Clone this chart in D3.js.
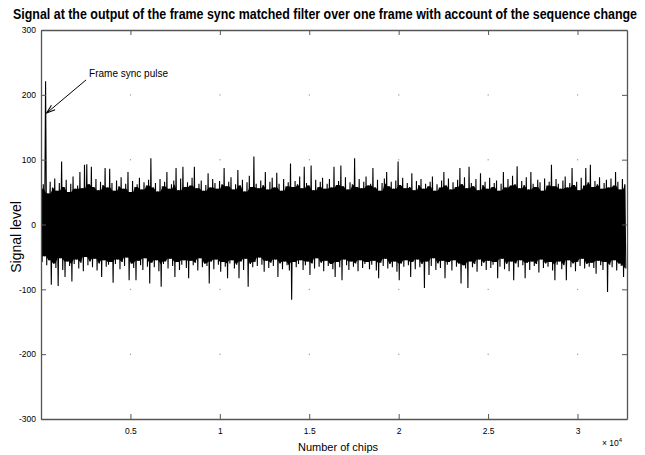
<!DOCTYPE html>
<html>
<head>
<meta charset="utf-8">
<script src="https://cdn.jsdelivr.net/npm/d3@7"></script>
<style>
  html, body { margin: 0; padding: 0; background: #fff; }
  svg { display: block; font-family: "Liberation Sans", Arial, sans-serif; }
</style>
</head>
<body>
<svg id="chart" width="645" height="455"></svg>
<script>
// Matched-filter output over one frame (32768 chips), summarised as
// positive and negative excursion per block of 128 chips.
const frameChips = 32768;
const blockChips = 128;

const upperPeaks = [
  55, 62, 221, 48, 66, 57, 71, 52, 64, 97, 58, 69, 50, 63, 74, 55,
  60, 81, 56, 92, 93, 62, 89, 58, 70, 53, 66, 61, 87, 57, 86, 64,
  52, 68, 59, 73, 55, 63, 81, 50, 67, 58, 62, 72, 54, 65, 60, 69,
  102, 57, 64, 51, 70, 59, 66, 81, 55, 62, 68, 87, 53, 71, 89, 58,
  65, 60, 72, 89, 56, 63, 68, 52, 61, 79, 57, 70, 64, 55, 67, 62,
  87, 59, 66, 73, 54, 62, 84, 60, 69, 51, 65, 75, 58, 105, 63, 56,
  68, 61, 81, 54, 66, 72, 57, 80, 63, 52, 70, 59, 65, 94, 58, 67,
  62, 74, 56, 89, 64, 60, 91, 53, 69, 58, 66, 72, 55, 63, 70, 57,
  89, 61, 67, 91, 59, 73, 54, 65, 62, 102, 58, 70, 56, 66, 74, 60,
  63, 87, 57, 69, 52, 64, 71, 81, 59, 66, 55, 68, 97, 61, 72, 56,
  64, 58, 79, 53, 67, 61, 70, 55, 63, 59, 66, 74, 52, 62, 57, 68,
  81, 60, 71, 54, 65, 58, 69, 87, 62, 73, 56, 89, 64, 59, 70, 53,
  79, 61, 66, 55, 72, 58, 64, 68, 52, 63, 81, 57, 70, 60, 75, 62,
  90, 56, 67, 61, 73, 54, 81, 63, 58, 69, 65, 52, 71, 60, 66, 92,
  59, 70, 63, 55, 68, 74, 57, 64, 87, 61, 66, 53, 72, 60, 87, 65,
  92, 58, 67, 62, 73, 55, 64, 69, 57, 71, 60, 81, 66, 54, 70, 62
];

const lowerPeaks = [
  -58, -49, -63, -55, -93, -60, -67, -95, -52, -70, -81, -57, -64, -88, -61, -54,
  -68, -59, -72, -50, -63, -57, -66, -53, -71, -60, -81, -55, -65, -62, -58, -90,
  -61, -54, -69, -58, -64, -51, -86, -60, -67, -86, -56, -63, -70, -52, -65, -91,
  -59, -66, -55, -72, -96, -61, -57, -68, -53, -64, -81, -58, -70, -62, -55, -67,
  -83, -56, -63, -59, -71, -52, -66, -60, -64, -91, -57, -69, -54, -62, -73, -58,
  -65, -83, -60, -55, -68, -62, -83, -57, -70, -53, -96, -61, -66, -58, -64, -51,
  -62, -73, -56, -67, -59, -64, -54, -81, -60, -69, -57, -63, -71, -116, -58, -66,
  -61, -55, -70, -63, -57, -78, -60, -68, -52, -65, -59, -72, -56, -64, -61, -69,
  -81, -58, -66, -86, -54, -63, -70, -57, -65, -60, -72, -55, -67, -61, -58, -69,
  -62, -56, -71, -83, -59, -64, -53, -68, -61, -66, -57, -73, -86, -60, -65, -55,
  -63, -81, -58, -69, -54, -66, -61, -98, -57, -78, -64, -52, -70, -60, -67, -56,
  -83, -62, -58, -71, -55, -65, -60, -91, -63, -68, -98, -57, -66, -61, -73, -54,
  -64, -59, -70, -56, -67, -62, -58, -83, -65, -53, -69, -61, -72, -57, -86, -60,
  -66, -55, -63, -83, -59, -70, -57, -64, -61, -74, -54, -67, -60, -65, -58, -71,
  -86, -62, -57, -69, -63, -86, -55, -66, -60, -72, -58, -64, -53, -68, -61, -65,
  -59, -67, -76, -56, -63, -70, -58, -104, -62, -66, -55, -71, -60, -64, -81, -68
];

const xTicks = [5000, 10000, 15000, 20000, 25000, 30000];
const xTickLabels = ["0.5", "1", "1.5", "2", "2.5", "3"];
const yTicks = [-300, -200, -100, 0, 100, 200, 300];
const yTickLabels = ["-300", "-200", "-100", "0", "100", "200", "300"];

// Annotation: arrow from the label down to the sync pulse
const pulseNote = { text: "Frame sync pulse", from: [2520, 223], to: [320, 172] };

const svg = d3.select("#chart");
const plotL = 41, plotR = 627, plotT = 30, plotB = 419;

const x = d3.scaleLinear().domain([0, frameChips]).range([plotL, plotR]);
const y = d3.scaleLinear().domain([-300, 300]).range([plotB, plotT]);

// Title, set in a horizontally condensed bold face
const titleScale = 0.82;
svg.append("text")
  .attr("transform", `translate(325,19) scale(${titleScale},1)`)
  .attr("text-anchor", "middle")
  .attr("font-weight", "bold")
  .attr("font-size", 14)
  .attr("textLength", 624 / titleScale)
  .attr("lengthAdjust", "spacingAndGlyphs")
  .text("Signal at the output of the frame sync matched filter over one frame with account of the sequence change");

// Dotted grid marks (sparse dots at the tick crossings)
const gridG = svg.append("g");
xTicks.forEach(xv => {
  yTicks.filter(v => v !== 0 && Math.abs(v) !== 300).forEach(yv => {
    gridG.append("rect")
      .attr("x", x(xv) - 0.5).attr("y", y(yv) - 0.5)
      .attr("width", 1.2).attr("height", 1.2)
      .attr("fill", "#9a9a9a");
  });
});

svg.append("defs").append("clipPath").attr("id", "plotClip")
  .append("rect").attr("x", plotL).attr("y", plotT)
  .attr("width", plotR - plotL).attr("height", plotB - plotT);

const plot = svg.append("g").attr("clip-path", "url(#plotClip)");

// Dense part of the trace: the level every neighbouring block reaches
const core = upperPeaks.map((v, k) => {
  const lo = Math.max(k - 1, 0), hi = Math.min(k + 1, upperPeaks.length - 1);
  return {
    c: k * blockChips + blockChips / 4,
    up: d3.min(upperPeaks.slice(lo, hi + 1)),
    dn: d3.max(lowerPeaks.slice(lo, hi + 1))
  };
});
plot.append("path")
  .datum(core)
  .attr("d", d3.area().x(d => x(d.c)).y0(d => y(d.dn)).y1(d => y(d.up)))
  .attr("fill", "#000");

// Signal trace: alternate positive and negative excursion per block
const pts = [];
upperPeaks.forEach((v, k) => {
  pts.push([k * blockChips, v]);
  pts.push([k * blockChips + blockChips / 2, lowerPeaks[k]]);
});
plot.append("path")
  .datum(pts)
  .attr("d", d3.line().x(d => x(d[0])).y(d => y(d[1])))
  .attr("fill", "none")
  .attr("stroke", "#000")
  .attr("stroke-width", 1.1)
  .attr("stroke-linejoin", "miter");

// Axes box with inward ticks on all four sides
const axisColor = "#555";
const tickLen = 5;
const axB = d3.axisBottom(x).tickValues(xTicks).tickSizeInner(-tickLen).tickSizeOuter(0)
  .tickFormat((d, i) => xTickLabels[i]).tickPadding(9);
const axT = d3.axisTop(x).tickValues(xTicks).tickSizeInner(-tickLen).tickSizeOuter(0).tickFormat("");
const axL = d3.axisLeft(y).tickValues(yTicks).tickSizeInner(-tickLen).tickSizeOuter(0)
  .tickFormat((d, i) => yTickLabels[i]).tickPadding(5);
const axR = d3.axisRight(y).tickValues(yTicks).tickSizeInner(-tickLen).tickSizeOuter(0).tickFormat("");

function styleAxis(g) {
  g.select(".domain").attr("stroke", axisColor).attr("stroke-width", 1.3);
  g.selectAll(".tick line").attr("stroke", axisColor);
  g.selectAll(".tick text").attr("fill", "#000")
    .attr("font-size", 8.5)
    .attr("font-family", "'Liberation Sans', Arial, sans-serif");
}
svg.append("g").attr("transform", `translate(0,${plotB})`).call(axB).call(styleAxis);
svg.append("g").attr("transform", `translate(0,${plotT})`).call(axT).call(styleAxis);
svg.append("g").attr("transform", `translate(${plotL},0)`).call(axL).call(styleAxis);
svg.append("g").attr("transform", `translate(${plotR},0)`).call(axR).call(styleAxis);

// Axis labels
svg.append("text")
  .attr("x", 338).attr("y", 451)
  .attr("text-anchor", "middle")
  .attr("font-size", 11)
  .text("Number of chips");

svg.append("text")
  .attr("transform", "translate(21,237) rotate(-90)")
  .attr("text-anchor", "middle")
  .attr("font-size", 14)
  .text("Signal level");

const expo = svg.append("text")
  .attr("x", 602).attr("y", 446)
  .attr("font-size", 8.5);
expo.append("tspan").text("\u00d7 10");
expo.append("tspan").attr("dy", -4).attr("font-size", 6).text("4");

// Annotation
svg.append("text")
  .attr("x", x(pulseNote.from[0]) + 3).attr("y", y(pulseNote.from[1]) - 3)
  .attr("font-size", 10)
  .text(pulseNote.text);

const ax0 = x(pulseNote.from[0]), ay0 = y(pulseNote.from[1]);
const ax1 = x(pulseNote.to[0]), ay1 = y(pulseNote.to[1]);
svg.append("line")
  .attr("x1", ax0).attr("y1", ay0).attr("x2", ax1).attr("y2", ay1)
  .attr("stroke", "#000").attr("stroke-width", 1);
const ang = Math.atan2(ay1 - ay0, ax1 - ax0);
const headLen = 9, headSpread = 0.32;
const head = [
  [ax1 - headLen * Math.cos(ang - headSpread), ay1 - headLen * Math.sin(ang - headSpread)],
  [ax1, ay1],
  [ax1 - headLen * Math.cos(ang + headSpread), ay1 - headLen * Math.sin(ang + headSpread)]
];
svg.append("path")
  .attr("d", d3.line()(head))
  .attr("fill", "none").attr("stroke", "#000").attr("stroke-width", 1.1);
</script>
</body>
</html>
